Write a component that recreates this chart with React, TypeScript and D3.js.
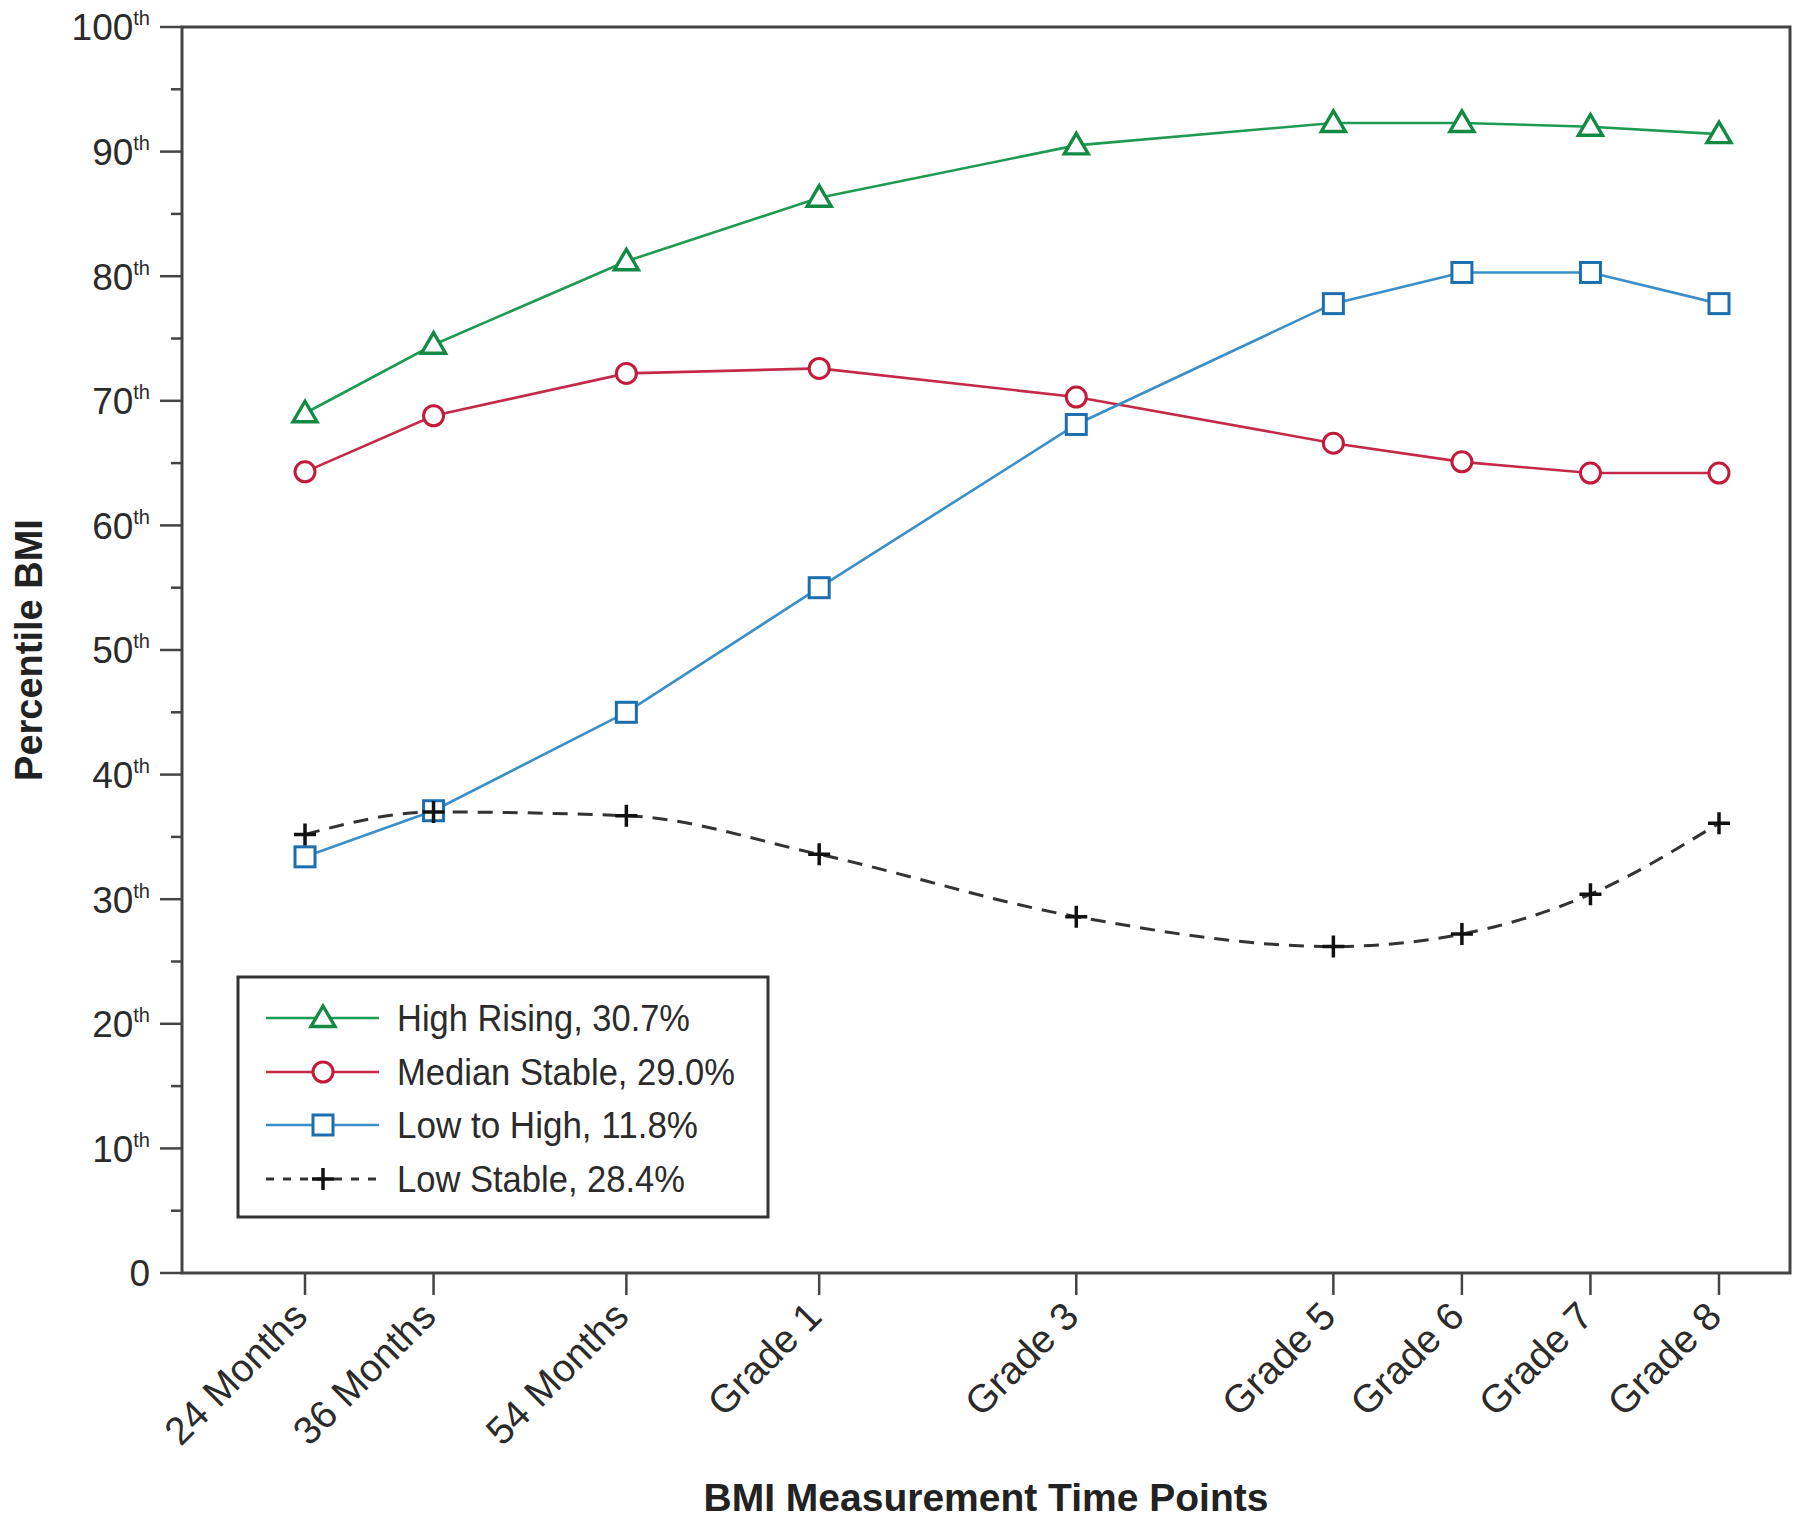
import React from "react";
import * as d3 from "d3";

const timeLabels = ["24 Months", "36 Months", "54 Months", "Grade 1", "Grade 3", "Grade 5", "Grade 6", "Grade 7", "Grade 8"];
const timeMonths = [24, 36, 54, 72, 96, 120, 132, 144, 156];

const highRising = [69.0, 74.5, 81.2, 86.3, 90.5, 92.3, 92.3, 92.0, 91.4];
const medianStable = [64.3, 68.8, 72.2, 72.6, 70.3, 66.6, 65.1, 64.2, 64.2];
const lowToHigh = [33.4, 37.1, 45.0, 55.0, 68.1, 77.8, 80.3, 80.3, 77.8];
const lowStable = [35.2, 37.0, 36.7, 33.6, 28.6, 26.2, 27.2, 30.4, 36.1];

const seriesNames = ["High Rising, 30.7%", "Median Stable, 29.0%", "Low to High, 11.8%", "Low Stable, 28.4%"];
const legendTextWidths = [293, 338, 301, 288];
const yMajorTicks = [0, 10, 20, 30, 40, 50, 60, 70, 80, 90, 100];
const yMinorTicks = [5, 15, 25, 35, 45, 55, 65, 75, 85, 95];

const W = 1800;
const H = 1523;
const frame = { left: 182, right: 1790, top: 27, bottom: 1273 };

const x = d3.scaleLinear().domain([24, 156]).range([305, 1719]);
const y = d3.scaleLinear().domain([0, 100]).range([frame.bottom, frame.top]);

type Shape = "triangle" | "circle" | "square" | "plus";
const series: { name: string; values: number[]; color: string; mark: string; shape: Shape; dashed: boolean; curved: boolean }[] = [
  { name: seriesNames[0], values: highRising, color: "#1f9a52", mark: "#138a43", shape: "triangle", dashed: false, curved: false },
  { name: seriesNames[1], values: medianStable, color: "#c42a48", mark: "#c41a3a", shape: "circle", dashed: false, curved: false },
  { name: seriesNames[2], values: lowToHigh, color: "#3a8fc8", mark: "#1c6fae", shape: "square", dashed: false, curved: false },
  { name: seriesNames[3], values: lowStable, color: "#333333", mark: "#111111", shape: "plus", dashed: true, curved: true },
];

function Marker({ shape, cx, cy, color }: { shape: Shape; cx: number; cy: number; color: string }) {
  if (shape === "triangle") {
    return <path d={`M${cx},${cy - 12}L${cx + 12},${cy + 8.5}L${cx - 12},${cy + 8.5}Z`} fill="#fff" stroke={color} strokeWidth={3.4} strokeLinejoin="miter" />;
  }
  if (shape === "circle") {
    return <circle cx={cx} cy={cy} r={10} fill="#fff" stroke={color} strokeWidth={3} />;
  }
  if (shape === "square") {
    return <rect x={cx - 10} y={cy - 10} width={20} height={20} fill="#fff" stroke={color} strokeWidth={3} />;
  }
  return <path d={`M${cx - 11},${cy}H${cx + 11}M${cx},${cy - 11}V${cy + 11}`} stroke={color} strokeWidth={3.5} />;
}

export default function App() {
  const font = "'Liberation Sans', Arial, Helvetica, sans-serif";
  const narrow = "'Liberation Sans Narrow', 'Arial Narrow', 'Liberation Sans', Arial, sans-serif";
  const textColor = "#2b2b2b";

  const legendRowsY = [1018, 1072, 1125, 1179];

  return (
    <svg width={W} height={H} style={{ position: "absolute", left: 0, top: 0, background: "#fff" }}>
      <rect x={0} y={0} width={W} height={H} fill="#fff" />

      {/* y ticks */}
      {yMajorTicks.map((t) => (
        <g key={"ymj" + t}>
          <line x1={frame.left - 22} x2={frame.left} y1={y(t)} y2={y(t)} stroke="#444" strokeWidth={2.5} />
          <text x={150} y={y(t)} dy="0.36em" textAnchor="end" fontFamily={font} fontSize={37} fill={textColor}>
            <tspan>{t}</tspan>
            {t !== 0 && (
              <tspan fontSize={20} dy={-15}>th</tspan>
            )}
          </text>
        </g>
      ))}
      {yMinorTicks.map((t) => (
        <line key={"ymn" + t} x1={frame.left - 11} x2={frame.left} y1={y(t)} y2={y(t)} stroke="#444" strokeWidth={2.5} />
      ))}

      {/* x ticks */}
      {timeMonths.map((m, i) => (
        <g key={"xt" + i}>
          <line x1={x(m)} x2={x(m)} y1={frame.bottom} y2={frame.bottom + 22} stroke="#444" strokeWidth={2.5} />
          <text
            transform={`translate(${x(m) - 5},${frame.bottom + 36}) rotate(-45)`}
            textAnchor="end"
            dominantBaseline="central"
            fontFamily={font}
            fontSize={39}
            fill={textColor}
          >
            {timeLabels[i]}
          </text>
        </g>
      ))}

      {/* lines */}
      {series.map((s, si) => {
        const gen = d3
          .line<number>()
          .x((_, i) => x(timeMonths[i]))
          .y((v) => y(v))
          .curve(s.curved ? d3.curveMonotoneX : d3.curveLinear);
        return (
          <path
            key={"ln" + si}
            d={gen(s.values) || ""}
            fill="none"
            stroke={s.color}
            strokeWidth={s.dashed ? 3 : 2.6}
            strokeDasharray={s.dashed ? "15 10" : undefined}
          />
        );
      })}

      {/* markers */}
      {series.map((s, si) => (
        <g key={"mk" + si}>
          {s.values.map((v, i) => (
            <Marker key={i} shape={s.shape} cx={x(timeMonths[i])} cy={y(v)} color={s.mark} />
          ))}
        </g>
      ))}

      {/* frame */}
      <rect
        x={frame.left}
        y={frame.top}
        width={frame.right - frame.left}
        height={frame.bottom - frame.top}
        fill="none"
        stroke="#444"
        strokeWidth={3}
      />

      {/* legend */}
      <rect x={238} y={977} width={530} height={240} fill="#fff" stroke="#333" strokeWidth={3} />
      {series.map((s, i) => (
        <g key={"lg" + i}>
          <line
            x1={266}
            x2={379}
            y1={legendRowsY[i]}
            y2={legendRowsY[i]}
            stroke={s.color}
            strokeWidth={s.dashed ? 3 : 2.6}
            strokeDasharray={s.dashed ? "8 9" : undefined}
          />
          <Marker shape={s.shape} cx={323} cy={legendRowsY[i]} color={s.mark} />
          <text
            x={397}
            y={legendRowsY[i]}
            dy="0.36em"
            fontFamily={narrow}
            fontSize={37}
            fill={textColor}
            textLength={legendTextWidths[i]}
            lengthAdjust="spacingAndGlyphs"
          >
            {s.name}
          </text>
        </g>
      ))}

      {/* axis titles */}
      <text x={(frame.left + frame.right) / 2} y={1511} textAnchor="middle" fontFamily={font} fontWeight="bold" fontSize={39} fill="#222">
        BMI Measurement Time Points
      </text>
      <text
        transform={`translate(42,${(frame.top + frame.bottom) / 2}) rotate(-90)`}
        textAnchor="middle"
        fontFamily={font}
        fontWeight="bold"
        fontSize={38}
        fill="#222"
      >
        Percentile BMI
      </text>
    </svg>
  );
}
